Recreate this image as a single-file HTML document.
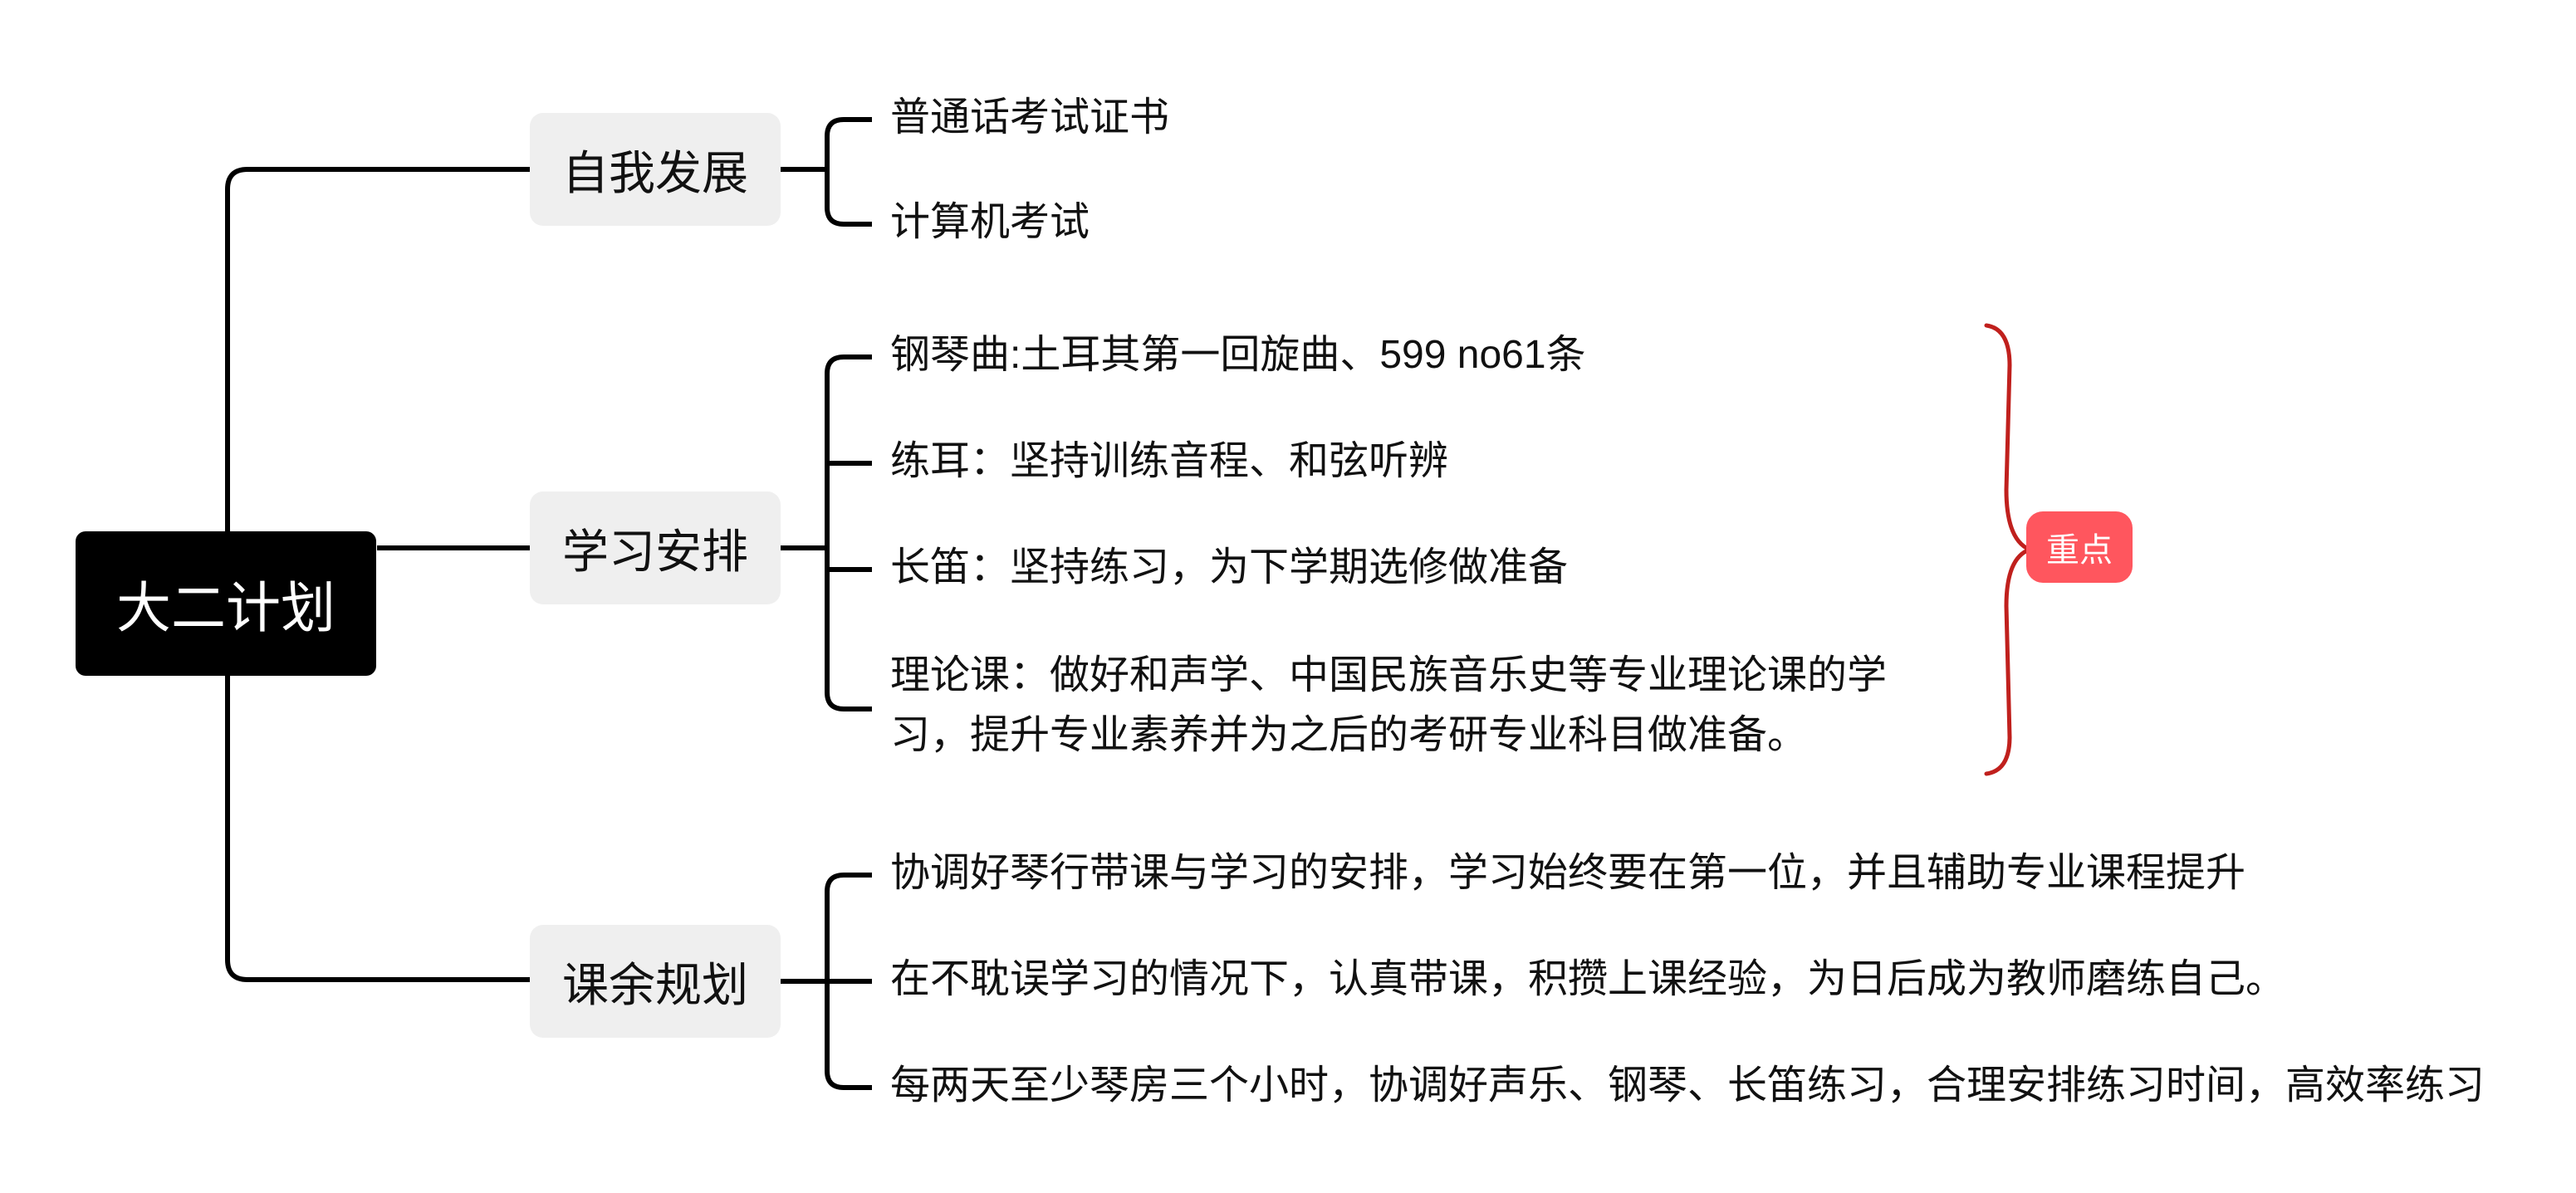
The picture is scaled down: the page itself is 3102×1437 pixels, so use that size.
<!DOCTYPE html>
<html><head><meta charset="utf-8"><style>
html,body{margin:0;padding:0;background:#fff;}
body{width:3102px;height:1437px;position:relative;overflow:hidden;font-family:"Liberation Sans","Noto Sans CJK SC",sans-serif;}
.t{position:absolute;font-size:48px;color:#111;white-space:nowrap;line-height:72px;}
.b1{position:absolute;left:638px;width:302px;height:136px;background:#efefef;border-radius:16px;font-size:56px;color:#111;display:flex;align-items:center;justify-content:center;}
</style></head><body>
<svg width="3102" height="1437" style="position:absolute;left:0;top:0">
<g fill="none" stroke="#000" stroke-width="6" stroke-linecap="butt">
<path d="M638 204 H298 Q274 204 274 228 V1156 Q274 1180 298 1180 H638"/>
<path d="M454 660 H638"/>
<path d="M940 204 H996"/>
<path d="M1050 144 H1016 Q996 144 996 164 V250 Q996 270 1016 270 H1050"/>
<path d="M940 660 H996"/>
<path d="M1050 430 H1016 Q996 430 996 450 V834 Q996 854 1016 854 H1050"/>
<path d="M996 558 H1050"/>
<path d="M996 686 H1050"/>
<path d="M940 1182 H996"/>
<path d="M1050 1054 H1016 Q996 1054 996 1074 V1290 Q996 1310 1016 1310 H1050"/>
<path d="M996 1182 H1050"/>
</g>
<path d="M2392 392 Q2420 396 2420 440 L2416 590 Q2416 650 2444 662 Q2416 672 2416 730 L2420 888 Q2420 928 2392 932" fill="none" stroke="#c0201d" stroke-width="5" stroke-linecap="round"/>
</svg>
<div style="position:absolute;left:91px;top:640px;width:362px;height:174px;background:#000;border-radius:12px;color:#fff;font-size:66px;display:flex;align-items:center;justify-content:center;">大二计划</div>
<div class="b1" style="top:136px">自我发展</div>
<div class="b1" style="top:592px">学习安排</div>
<div class="b1" style="top:1114px">课余规划</div>
<div class="t" style="left:1072px;top:106px">普通话考试证书</div>
<div class="t" style="left:1072px;top:232px">计算机考试</div>
<div class="t" style="left:1072px;top:392px">钢琴曲:土耳其第一回旋曲、599 no61条</div>
<div class="t" style="left:1072px;top:520px">练耳：坚持训练音程、和弦听辨</div>
<div class="t" style="left:1072px;top:648px">长笛：坚持练习，为下学期选修做准备</div>
<div class="t" style="left:1072px;top:778px">理论课：做好和声学、中国民族音乐史等专业理论课的学</div>
<div class="t" style="left:1072px;top:850px">习，提升专业素养并为之后的考研专业科目做准备。</div>
<div class="t" style="left:1072px;top:1016px">协调好琴行带课与学习的安排，学习始终要在第一位，并且辅助专业课程提升</div>
<div class="t" style="left:1072px;top:1144px">在不耽误学习的情况下，认真带课，积攒上课经验，为日后成为教师磨练自己。</div>
<div class="t" style="left:1072px;top:1272px">每两天至少琴房三个小时，协调好声乐、钢琴、长笛练习，合理安排练习时间，高效率练习</div>
<div style="position:absolute;left:2440px;top:616px;width:128px;height:86px;background:#ff565e;border-radius:20px;color:#fff;font-size:40px;display:flex;align-items:center;justify-content:center;">重点</div>
</body></html>
